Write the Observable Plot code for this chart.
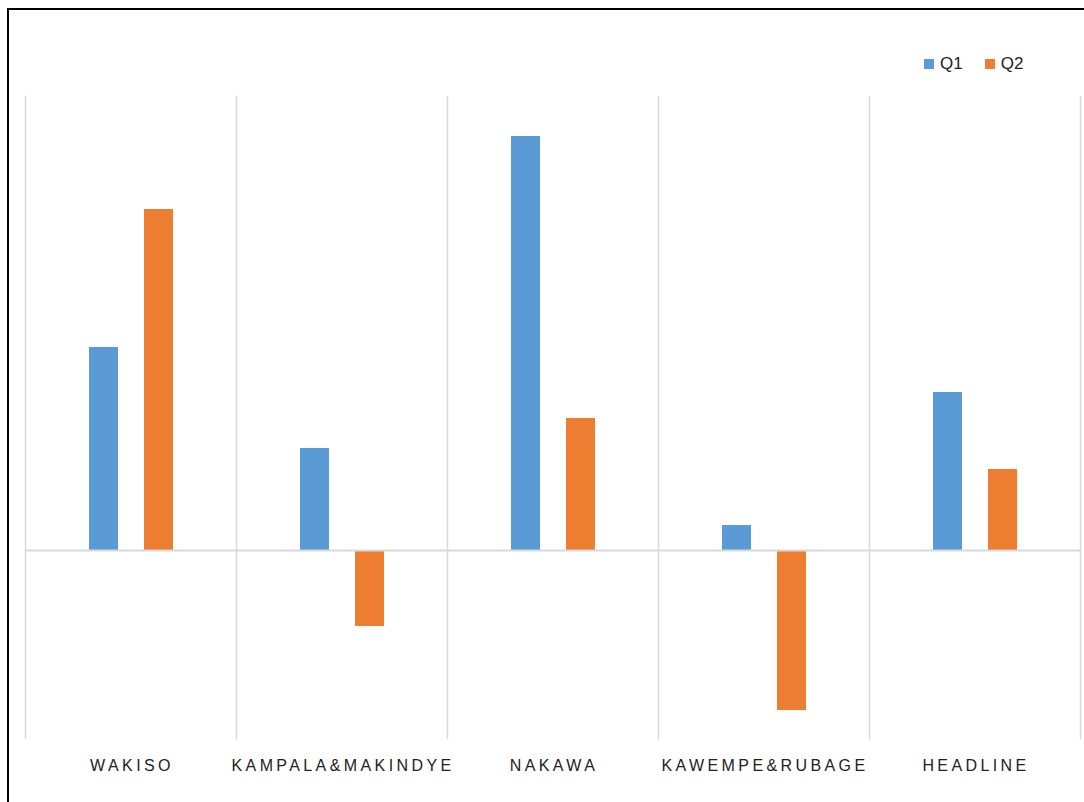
<!DOCTYPE html>
<html>
<head>
<meta charset="utf-8">
<script src="https://cdn.jsdelivr.net/npm/d3@7"></script>
<script src="https://cdn.jsdelivr.net/npm/@observablehq/plot@0.6"></script>
<style>
  html, body { margin: 0; padding: 0; background: #fff; overflow: hidden; width: 1084px; height: 802px; }
  #wrap { position: relative; width: 1084px; height: 802px; }
  #border { position: absolute; left: 7px; top: 8px; width: 1200px; height: 900px; border: 2px solid #000; box-sizing: border-box; }
  #chart { position: absolute; left: 0; top: 0; }
  #legend { position: absolute; top: 54px; left: 924px; font-family: "Liberation Sans", Arial, sans-serif; font-size: 17px; color: #222; display: flex; align-items: center; }
  .item { display: flex; align-items: center; margin-right: 22px; }
  .sw { width: 10px; height: 10px; margin-right: 6px; }
</style>
</head>
<body>
<div id="wrap">
  <div id="border"></div>
  <div id="chart"></div>
  <div id="legend"></div>
</div>
<script>
const categories = ["WAKISO", "KAMPALA&MAKINDYE", "NAKAWA", "KAWEMPE&RUBAGE", "HEADLINE"];
const seriesNames = ["Q1", "Q2"];
const q1Values = [2.03, 1.02, 4.14, 0.25, 1.58];
const q2Values = [3.41, -0.76, 1.32, -1.60, 0.81];
const seriesColors = ["#5b9bd5", "#ed7d31"];

const data = [];
categories.forEach((c, i) => {
  data.push({category: c, quarter: "Q1", value: q1Values[i]});
  data.push({category: c, quarter: "Q2", value: q2Values[i]});
});

const chart = Plot.plot({
  width: 1084,
  height: 802,
  marginTop: 96,
  marginBottom: 64,
  marginLeft: 23,
  marginRight: 2,
  style: {background: "transparent", fontFamily: "Liberation Sans, Arial, sans-serif"},
  fx: {domain: categories, padding: 0, label: null, axis: "bottom", tickSize: 0, tickPadding: 21},
  x: {domain: seriesNames, paddingInner: 0.48, paddingOuter: 1.13, axis: null},
  y: {domain: [-1.88, 4.54], axis: null},
  color: {domain: seriesNames, range: seriesColors},
  marks: [
    Plot.frame({anchor: "left", stroke: "#d9d9d9", strokeWidth: 1.5}),
    Plot.frame({anchor: "right", facetAnchor: "right", stroke: "#d9d9d9", strokeWidth: 1.5}),
    Plot.barY(data, {fx: "category", x: "quarter", y: "value", fill: "quarter"}),
    Plot.ruleY([0], {stroke: "#d9d9d9", strokeWidth: 2})
  ]
});
document.getElementById("chart").appendChild(chart);

d3.select(chart).selectAll("g[aria-label='fx-axis tick label'] text, g[aria-label='fx-axis tick label']")
  .style("font-size", "16px").style("letter-spacing", "3.4px").style("fill", "#222");
d3.select(chart).selectAll("g[aria-label='fx-axis tick label'] text").attr("dx", "1");

const legend = document.getElementById("legend");
seriesNames.forEach((s, i) => {
  const it = document.createElement("div");
  it.className = "item";
  const sw = document.createElement("div");
  sw.className = "sw";
  sw.style.background = seriesColors[i];
  const t = document.createElement("span");
  t.textContent = s;
  it.appendChild(sw); it.appendChild(t);
  legend.appendChild(it);
});
</script>
</body>
</html>
